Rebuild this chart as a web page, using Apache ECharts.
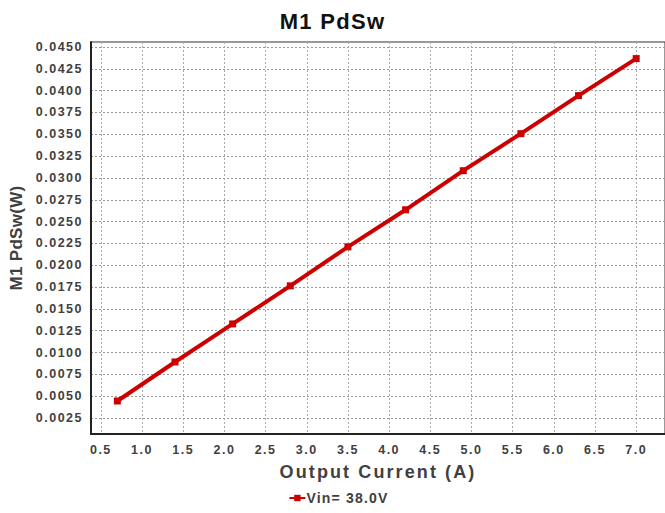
<!DOCTYPE html>
<html>
<head>
<meta charset="utf-8">
<script src="https://cdn.jsdelivr.net/npm/echarts@6/dist/echarts.min.js"></script>
<style>
  html, body { margin: 0; padding: 0; background: #fff; }
  #chart { width: 665px; height: 513px; }
  #chart text[style*="22px"] { letter-spacing: 1.3px; }
  #chart text[style*="18px"] { letter-spacing: 2.1px; }
  #chart text[style*="17px"] { letter-spacing: 0.3px; }
  #chart text[style*="14px"] { letter-spacing: 1.2px; }
  #chart text[style*="12.5px"] { letter-spacing: 1.5px; }
</style>
</head>
<body>
<div id="chart"></div>
<script>
const titleText = 'M1 PdSw';
const xName = 'Output Current (A)';
const yName = 'M1 PdSw(W)';
const seriesName = 'Vin= 38.0V';
const xValues = [0.7, 1.4, 2.1, 2.8, 3.5, 4.2, 4.9, 5.6, 6.3, 7.0];
const yValues = [0.00445, 0.00892, 0.01328, 0.01764, 0.02211, 0.02635, 0.03083, 0.03507, 0.03943, 0.04367];
const xTicks = [0.5, 1.0, 1.5, 2.0, 2.5, 3.0, 3.5, 4.0, 4.5, 5.0, 5.5, 6.0, 6.5, 7.0];
const yTicks = [0.0025, 0.0050, 0.0075, 0.0100, 0.0125, 0.0150, 0.0175, 0.0200, 0.0225, 0.0250,
                0.0275, 0.0300, 0.0325, 0.0350, 0.0375, 0.0400, 0.0425, 0.0450];

const chart = echarts.init(document.getElementById('chart'), null, { renderer: 'svg' });
const FONT = 'Liberation Sans, Arial, sans-serif';
chart.setOption({
  animation: false,
  backgroundColor: '#ffffff',
  title: {
    text: titleText,
    left: 'center',
    top: 5,
    textStyle: { fontFamily: FONT, fontSize: 22, fontWeight: 'bold', color: '#111111' }
  },
  grid: {
    left: 91, right: -6, top: 42, bottom: 79,
    show: true, borderColor: '#333333', borderWidth: 1
  },
  legend: {
    bottom: 3,
    left: 'center',
    itemWidth: 16,
    itemHeight: 8,
    itemGap: 2,
    textStyle: { fontFamily: FONT, fontSize: 14, fontWeight: 'bold', color: '#404040', padding: [0,0,0,-4] },
    data: [seriesName]
  },
  xAxis: {
    type: 'value',
    min: 0.38, max: 7.35,
    name: xName,
    nameLocation: 'middle',
    nameGap: 29,
    nameTextStyle: { fontFamily: FONT, fontSize: 18, fontWeight: 'bold', color: '#404040' },
    axisLine: { show: true, lineStyle: { color: '#222222', width: 2 } },
    axisTick: { show: false, customValues: xTicks },
    axisLabel: {
      customValues: xTicks,
      margin: 9,
      fontFamily: FONT, fontSize: 12.5, fontWeight: 'bold', color: '#404040',
      formatter: v => v.toFixed(1)
    },
    splitLine: { show: true, lineStyle: { color: '#aaaaaa', type: [2, 2], width: 1 } }
  },
  yAxis: {
    type: 'value',
    min: 0.00067, max: 0.04557,
    name: yName,
    nameLocation: 'middle',
    nameGap: 66,
    nameTextStyle: { fontFamily: FONT, fontSize: 17, fontWeight: 'bold', color: '#404040' },
    axisLine: { show: true, lineStyle: { color: '#222222', width: 2 } },
    axisTick: { show: false, customValues: yTicks },
    axisLabel: {
      customValues: yTicks,
      margin: 8,
      fontFamily: FONT, fontSize: 12.5, fontWeight: 'bold', color: '#404040',
      formatter: v => v.toFixed(4)
    },
    splitLine: { show: true, lineStyle: { color: '#999999', type: [2, 2], width: 1 } }
  },
  series: [{
    name: seriesName,
    type: 'line',
    data: xValues.map((x, i) => [x, yValues[i]]),
    symbol: 'rect',
    symbolSize: 7,
    lineStyle: { color: '#cc0000', width: 4 },
    itemStyle: { color: '#cc0000' }
  }]
});
</script>
</body>
</html>
